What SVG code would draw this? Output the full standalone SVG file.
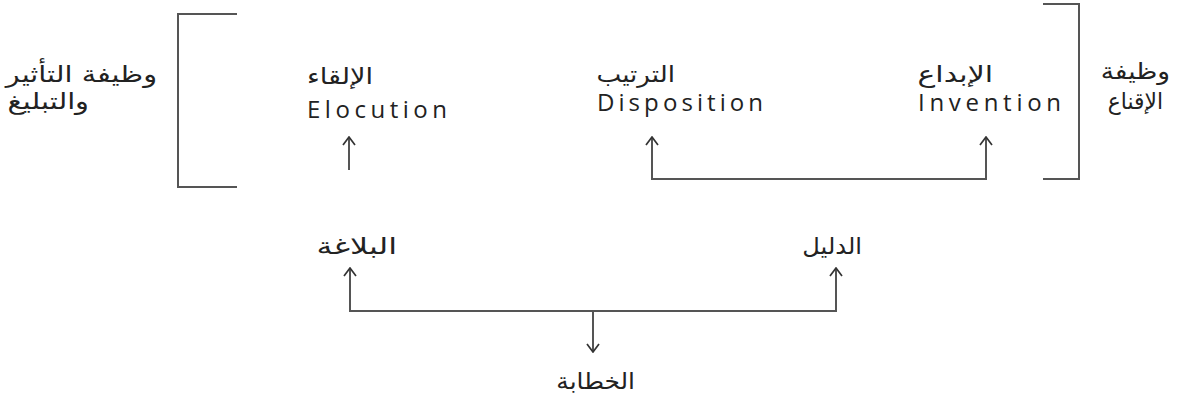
<svg xmlns="http://www.w3.org/2000/svg" width="1179" height="401" viewBox="0 0 1179 401">
<style>
.ln{fill:none;stroke:#555;stroke-width:2}
.ar{font-family:"DejaVu Sans",sans-serif;font-size:23px;fill:#222;text-anchor:end}
.en{font-family:"Open Sans","DejaVu Sans",sans-serif;font-size:24px;fill:#222}
</style>
<defs>
<marker id="ah" viewBox="0 0 10 14" refX="9" refY="7" markerWidth="10" markerHeight="14" markerUnits="userSpaceOnUse" orient="auto-start-reverse">
<path d="M1,1 L9,7 L1,13" fill="none" stroke="#333" stroke-width="1.7"/>
</marker>
</defs>
<rect width="1179" height="401" fill="#fff"/>
<g id="brackets">
<path class="ln" d="M237,14 H178 V187 H237"/>
<path class="ln" d="M1043,4 H1079 V179 H1043"/>
</g>
<g id="connectors">
<path class="ln" d="M349,170 V137" marker-end="url(#ah)"/>
<path class="ln" d="M652,137 V179 H986 V137" marker-start="url(#ah)" marker-end="url(#ah)"/>
<path class="ln" d="M350,268 V311 H836 V268" marker-start="url(#ah)" marker-end="url(#ah)"/>
<path class="ln" d="M593,311 V352" marker-end="url(#ah)"/>
</g>
<g id="label-left">
<text class="ar" transform="translate(157,82) scale(1.25,1)">وظيفة التأثير</text>
<text class="ar" transform="translate(89,109) scale(1.25,1)">والتبليغ</text>
</g>
<g id="elocution">
<text class="ar" transform="translate(373,84) scale(1.18,1)">الإلقاء</text>
<text class="en" x="307" y="118" textLength="140" lengthAdjust="spacing">Elocution</text>
</g>
<g id="disposition">
<text class="ar" transform="translate(675,82) scale(1.14,1)">الترتيب</text>
<text class="en" x="597" y="111" textLength="166" lengthAdjust="spacing">Disposition</text>
</g>
<g id="invention">
<text class="ar" transform="translate(993,82) scale(1.3,1)">الإبداع</text>
<text class="en" x="918" y="111" textLength="143" lengthAdjust="spacing">Invention</text>
</g>
<g id="label-right">
<text class="ar" transform="translate(1170,79) scale(1.15,1)">وظيفة</text>
<text class="ar" transform="translate(1163,109) scale(0.95,1)">الإقناع</text>
</g>
<g id="balagha">
<text class="ar" transform="translate(397,254) scale(1.38,1)">البلاغة</text>
</g>
<g id="dalil">
<text class="ar" transform="translate(862,254) scale(1.05,1)">الدليل</text>
</g>
<g id="khitaba">
<text class="ar" transform="translate(635,389) scale(1.08,1)">الخطابة</text>
</g>
</svg>
